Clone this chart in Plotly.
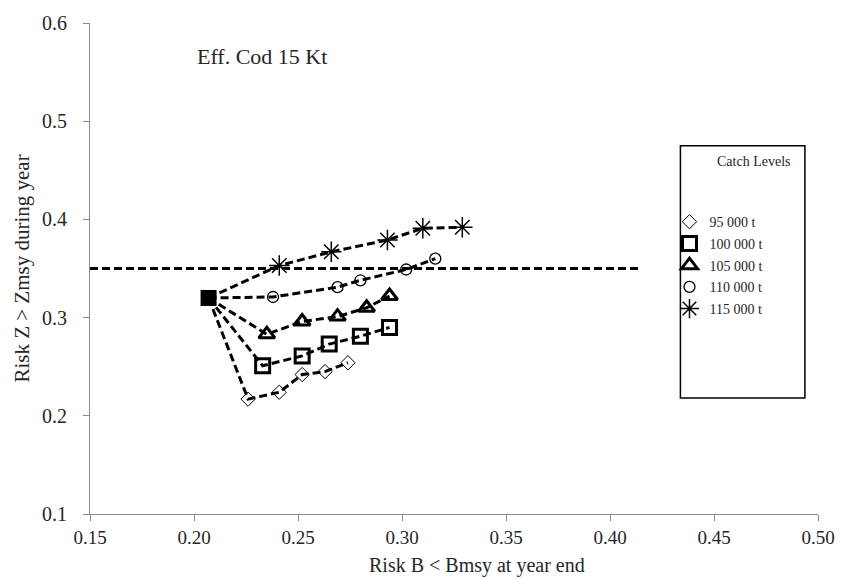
import plotly.graph_objects as go

# Common starting point (current situation)
START_X = 0.207
START_Y = 0.320

# Catch level scenarios: risk B < Bmsy (x) vs risk Z > Zmsy (y)
CATCH_LABELS = ["95 000 t", "100 000 t", "105 000 t", "110 000 t", "115 000 t"]

X_95 = [0.226, 0.241, 0.252, 0.263, 0.274]
Y_95 = [0.217, 0.224, 0.242, 0.245, 0.254]

X_100 = [0.233, 0.252, 0.265, 0.280, 0.294]
Y_100 = [0.251, 0.261, 0.273, 0.281, 0.290]

X_105 = [0.235, 0.252, 0.269, 0.283, 0.294]
Y_105 = [0.283, 0.296, 0.301, 0.310, 0.322]

X_110 = [0.238, 0.269, 0.280, 0.302, 0.316]
Y_110 = [0.321, 0.331, 0.338, 0.349, 0.360]

X_115 = [0.241, 0.266, 0.293, 0.310, 0.329]
Y_115 = [0.353, 0.367, 0.379, 0.391, 0.392]

# Zmsy risk threshold
HLINE_X = [0.15, 0.414]
HLINE_Y = [0.35, 0.35]

SERIES_X = [X_95, X_100, X_105, X_110, X_115]
SERIES_Y = [Y_95, Y_100, Y_105, Y_110, Y_115]

SERIF = "Liberation Serif"
TXT = "#262626"
DASH = "8px,4px"

marker_styles = [
    dict(symbol="diamond-open", size=11, line=dict(width=1)),
    dict(symbol="square-open", size=14, line=dict(width=3)),
    dict(symbol="triangle-up-open", size=14, line=dict(width=3)),
    dict(symbol="circle-open", size=11, line=dict(width=1.3)),
    dict(symbol="asterisk-open", size=17, line=dict(width=1.5)),
]

fig = go.Figure()

fig.add_trace(go.Scatter(
    x=HLINE_X, y=HLINE_Y, mode="lines",
    line=dict(color="black", width=3, dash=DASH),
    showlegend=False, hoverinfo="skip",
))

# dashed paths from the starting point through each scenario
for xs, ys in zip(SERIES_X, SERIES_Y):
    fig.add_trace(go.Scatter(
        x=[START_X] + xs, y=[START_Y] + ys, mode="lines",
        line=dict(color="black", width=3, dash=DASH),
        showlegend=False, hoverinfo="skip",
    ))

# scenario markers (these carry the legend entries)
for i, (xs, ys, lab, ms) in enumerate(zip(SERIES_X, SERIES_Y, CATCH_LABELS, marker_styles)):
    fig.add_trace(go.Scatter(
        x=xs, y=ys, mode="markers", name=lab,
        marker=dict(color="black", **ms),
        legendgroup=f"g{i}",
    ))

fig.add_trace(go.Scatter(
    x=[START_X], y=[START_Y], mode="markers",
    marker=dict(symbol="square", size=16, color="black"),
    showlegend=False,
))

axis_common = dict(
    showline=True, linecolor="#8a8a8a", linewidth=1,
    ticks="outside", ticklen=6, tickcolor="#8a8a8a",
    showgrid=False, zeroline=False,
)

fig.update_layout(
    width=847, height=579,
    margin=dict(l=90, r=26, t=18, b=65),
    plot_bgcolor="white", paper_bgcolor="white",
    xaxis=dict(range=[0.15, 0.50], dtick=0.05, tick0=0.15, tickformat=".2f",
               ticklabelstandoff=0,
               tickfont=dict(family=SERIF, size=19, color=TXT),
               **axis_common),
    yaxis=dict(range=[0.1, 0.6], dtick=0.1, tick0=0.1, tickformat=".1f",
               ticklabelstandoff=12,
               tickfont=dict(family=SERIF, size=20, color=TXT),
               title=dict(text="Risk Z > Zmsy during year", standoff=6,
                          font=dict(family=SERIF, size=21, color=TXT)),
               **axis_common),
    legend=dict(
        x=0.796, y=0.627, xanchor="left", yanchor="top",
        bgcolor="rgba(0,0,0,0)", borderwidth=0,
        font=dict(family=SERIF, size=14, color=TXT),
        tracegroupgap=0.5, traceorder="grouped", itemwidth=30,
    ),
    shapes=[dict(type="rect", xref="paper", yref="paper",
                 x0=0.811, x1=0.982, y0=0.236, y1=0.75,
                 line=dict(color="black", width=1.5), fillcolor="rgba(0,0,0,0)")],
    annotations=[
        dict(text="Risk B < Bmsy at year end", xref="paper", yref="paper",
             x=0.531, y=-0.105, xanchor="center", yanchor="middle", showarrow=False,
             font=dict(family=SERIF, size=20, color=TXT)),
        dict(text="Eff. Cod 15 Kt", xref="paper", yref="paper",
             x=0.144, y=0.932, xanchor="left", yanchor="middle", showarrow=False,
             font=dict(family=SERIF, size=22, color=TXT)),
        dict(text="Catch Levels", xref="paper", yref="paper",
             x=0.912, y=0.718, xanchor="center", yanchor="middle", showarrow=False,
             font=dict(family=SERIF, size=14, color=TXT)),
    ],
)

fig.write_html("out.html")
